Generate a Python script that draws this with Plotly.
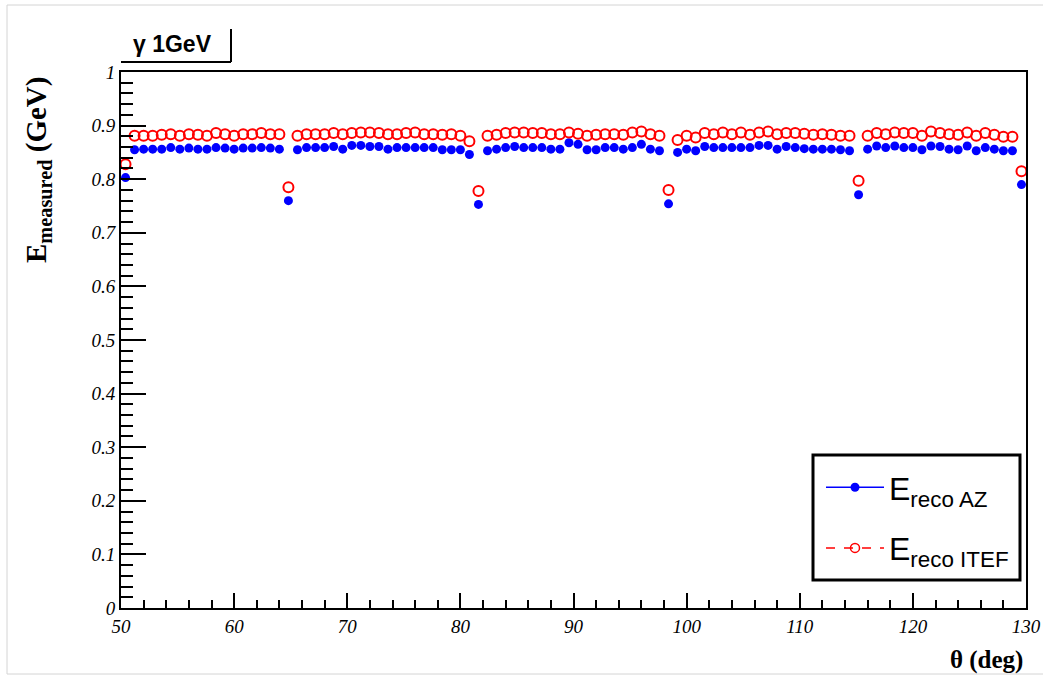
import plotly.graph_objects as go

# ---- data ----
theta_deg = [
    50.4, 51.2, 52.0, 52.8, 53.6, 54.4, 55.2, 56.0, 56.8, 57.6,
    58.4, 59.2, 60.0, 60.8, 61.6, 62.4, 63.2, 64.0, 64.8, 65.6,
    66.4, 67.2, 68.0, 68.8, 69.6, 70.4, 71.2, 72.0, 72.8, 73.6,
    74.4, 75.2, 76.0, 76.8, 77.6, 78.4, 79.2, 80.0, 80.8, 81.6,
    82.4, 83.2, 84.0, 84.8, 85.6, 86.4, 87.2, 88.0, 88.8, 89.6,
    90.4, 91.2, 92.0, 92.8, 93.6, 94.4, 95.2, 96.0, 96.8, 97.6,
    98.4, 99.2, 100.0, 100.8, 101.6, 102.4, 103.2, 104.0, 104.8, 105.6,
    106.4, 107.2, 108.0, 108.8, 109.6, 110.4, 111.2, 112.0, 112.8, 113.6,
    114.4, 115.2, 116.0, 116.8, 117.6, 118.4, 119.2, 120.0, 120.8, 121.6,
    122.4, 123.2, 124.0, 124.8, 125.6, 126.4, 127.2, 128.0, 128.8, 129.6,
]

e_reco_az = [
    0.803, 0.855, 0.856, 0.856, 0.856, 0.859, 0.856, 0.858, 0.856, 0.856,
    0.859, 0.858, 0.856, 0.858, 0.858, 0.859, 0.858, 0.856, 0.760, 0.855,
    0.859, 0.859, 0.859, 0.861, 0.856, 0.863, 0.863, 0.861, 0.861, 0.856,
    0.859, 0.859, 0.859, 0.859, 0.859, 0.855, 0.855, 0.855, 0.846, 0.753,
    0.853, 0.856, 0.859, 0.861, 0.859, 0.859, 0.859, 0.856, 0.856, 0.868,
    0.865, 0.855, 0.855, 0.859, 0.859, 0.856, 0.859, 0.865, 0.856, 0.853,
    0.754, 0.850, 0.856, 0.853, 0.861, 0.859, 0.859, 0.859, 0.859, 0.859,
    0.863, 0.863, 0.856, 0.861, 0.859, 0.857, 0.856, 0.856, 0.856, 0.855,
    0.853, 0.771, 0.856, 0.862, 0.859, 0.862, 0.859, 0.859, 0.855, 0.862,
    0.861, 0.856, 0.855, 0.862, 0.853, 0.859, 0.856, 0.853, 0.853, 0.790,
]

e_reco_itef = [
    0.828, 0.881, 0.881, 0.881, 0.883, 0.884, 0.881, 0.884, 0.883, 0.881,
    0.886, 0.884, 0.881, 0.884, 0.884, 0.886, 0.884, 0.884, 0.785, 0.881,
    0.884, 0.884, 0.884, 0.886, 0.884, 0.886, 0.887, 0.887, 0.886, 0.884,
    0.884, 0.886, 0.887, 0.884, 0.884, 0.883, 0.884, 0.881, 0.871, 0.778,
    0.881, 0.883, 0.886, 0.887, 0.887, 0.886, 0.886, 0.884, 0.884, 0.887,
    0.885, 0.881, 0.883, 0.884, 0.884, 0.883, 0.887, 0.889, 0.884, 0.881,
    0.780, 0.873, 0.881, 0.878, 0.886, 0.884, 0.887, 0.884, 0.887, 0.883,
    0.887, 0.889, 0.884, 0.886, 0.886, 0.885, 0.883, 0.884, 0.883, 0.881,
    0.881, 0.797, 0.881, 0.886, 0.884, 0.887, 0.886, 0.886, 0.881, 0.889,
    0.886, 0.884, 0.883, 0.887, 0.881, 0.886, 0.883, 0.879, 0.879, 0.815,
]

series_names = ["E<sub>reco AZ</sub>", "E<sub>reco ITEF</sub>"]
x_tick_vals = [50, 60, 70, 80, 90, 100, 110, 120, 130]
y_tick_vals = [0, 0.1, 0.2, 0.3, 0.4, 0.5, 0.6, 0.7, 0.8, 0.9, 1]

BLUE = "#0000ff"
RED = "#ff0000"

fig = go.Figure()

# data markers
fig.add_trace(go.Scatter(
    x=theta_deg, y=e_reco_az, mode="markers", showlegend=False,
    marker=dict(symbol="circle", size=9, color=BLUE, line=dict(width=0)),
))
fig.add_trace(go.Scatter(
    x=theta_deg, y=e_reco_itef, mode="markers", showlegend=False,
    marker=dict(symbol="circle-open", size=10, color=RED, line=dict(width=2)),
))

# legend-only entries (line + marker samples)
fig.add_trace(go.Scatter(
    x=[None], y=[None], mode="lines+markers", name=series_names[0],
    legendgroup="az",
    line=dict(color=BLUE, width=1.5),
    marker=dict(symbol="circle", size=9, color=BLUE),
))
fig.add_trace(go.Scatter(
    x=[None], y=[None], mode="lines+markers", name=series_names[1],
    legendgroup="itef",
    line=dict(color=RED, width=1.5, dash="dash"),
    marker=dict(symbol="circle-open", size=9, color=RED, line=dict(width=1.5)),
))

W, H = 1043, 676
L, R, T, B = 121, 17, 72, 68
PW, PH = W - L - R, H - T - B


def px(xp):
    return (xp - L) / PW


def py(yp):
    return (H - B - yp) / PH


tick_font = dict(family="Liberation Serif", size=19, color="black", style="italic")

fig.update_layout(
    template="none",
    width=W, height=H,
    margin=dict(l=L, r=R, t=T, b=B, pad=0, autoexpand=False),
    paper_bgcolor="white", plot_bgcolor="white",
    showlegend=True,
    legend=dict(
        x=px(821), y=py(460), xanchor="left", yanchor="top",
        bgcolor="rgba(0,0,0,0)", borderwidth=0,
        font=dict(family="Liberation Sans", size=32, color="black"),
        tracegroupgap=16, itemwidth=58,
    ),
    xaxis=dict(
        range=[50, 130], tickvals=x_tick_vals, automargin=False,
        ticks="inside", ticklen=15, tickwidth=1.5, tickcolor="black",
        minor=dict(ticks="inside", dtick=2, tick0=50, ticklen=8, tickwidth=1.5, tickcolor="black"),
        showline=True, linewidth=2, linecolor="black", mirror=True,
        showgrid=False, zeroline=False, tickfont=tick_font,
    ),
    yaxis=dict(
        range=[0, 1], tickvals=y_tick_vals, automargin=False,
        ticks="inside", ticklen=25, tickwidth=1.5, tickcolor="black",
        minor=dict(ticks="inside", dtick=0.02, tick0=0, ticklen=12, tickwidth=1.5, tickcolor="black"),
        showline=True, linewidth=2, linecolor="black", mirror=True,
        showgrid=False, zeroline=False, tickfont=tick_font,
    ),
)

# axis titles, positioned like the ROOT canvas
fig.add_annotation(
    xref="paper", yref="paper", x=px(38), y=py(170),
    xanchor="center", yanchor="middle", textangle=-90, showarrow=False,
    text="<b>E<sub>measured</sub> (GeV)</b>",
    font=dict(family="Liberation Serif", size=29, color="black"),
)
fig.add_annotation(
    xref="paper", yref="paper", x=px(1025), y=py(660),
    xanchor="right", yanchor="middle", showarrow=False,
    text="<b>θ (deg)</b>",
    font=dict(family="Liberation Serif", size=25, color="black"),
)
# title pave
fig.add_annotation(
    xref="paper", yref="paper", x=px(172), y=py(44),
    xanchor="center", yanchor="middle", showarrow=False,
    text="<b>γ 1GeV</b>",
    font=dict(family="Liberation Sans", size=23, color="black"),
)
fig.add_shape(type="line", xref="paper", yref="paper",
              x0=px(121), x1=px(231), y0=py(62), y1=py(62),
              line=dict(color="black", width=2))
fig.add_shape(type="line", xref="paper", yref="paper",
              x0=px(231), x1=px(231), y0=py(62), y1=py(29),
              line=dict(color="black", width=2))
# legend frame
fig.add_shape(type="rect", xref="paper", yref="paper",
              x0=px(813), x1=px(1020), y0=py(580), y1=py(455),
              line=dict(color="black", width=3), fillcolor="white", layer="below")
# light outer frame of the canvas picture
fig.add_shape(type="rect", xref="paper", yref="paper",
              x0=px(7), x1=px(1050), y0=py(674), y1=py(5),
              line=dict(color="#d4d4d4", width=1), layer="below")

fig.write_html(
    "out.html",
    config={"displayModeBar": False},
    post_script="document.body.style.margin='0';document.body.style.overflow='hidden';",
)
